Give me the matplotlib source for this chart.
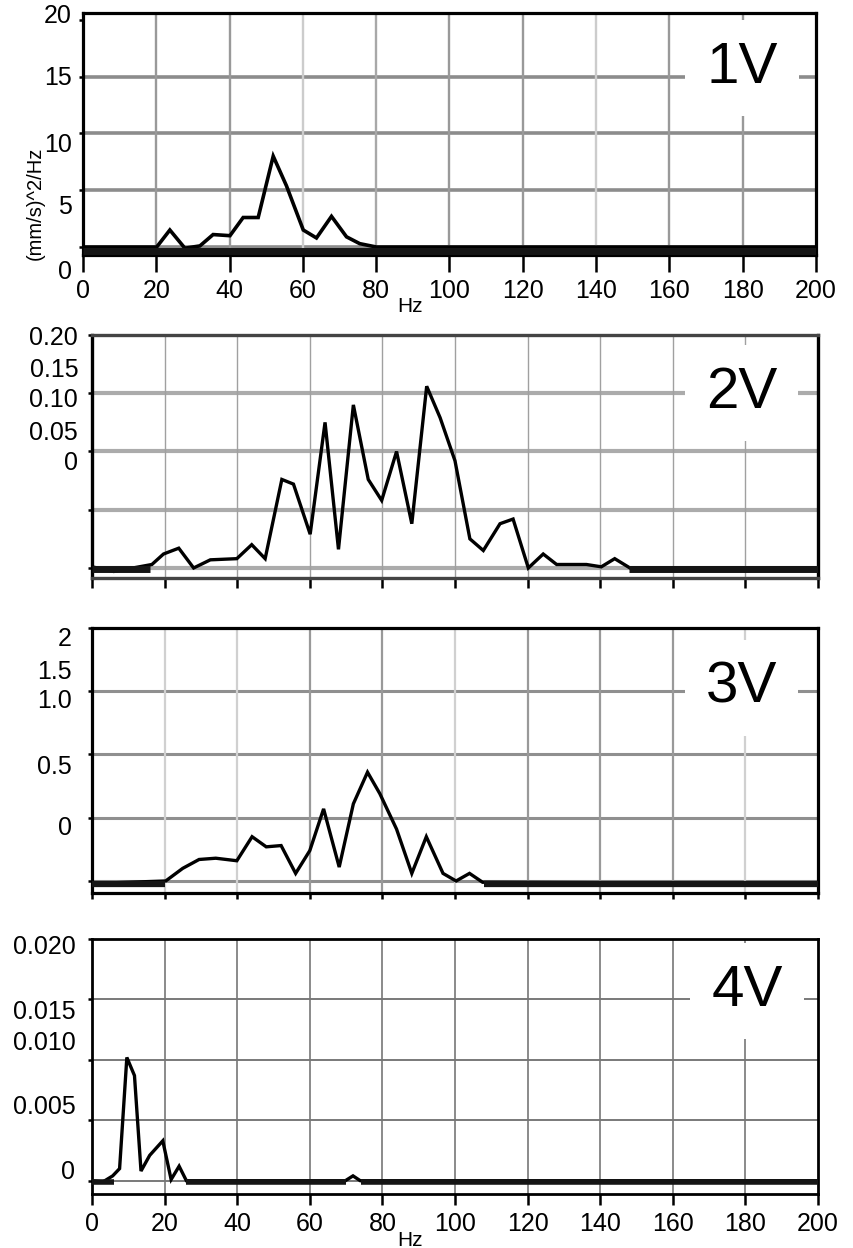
import matplotlib
matplotlib.use('Agg')
import matplotlib.pyplot as plt

plt.rcParams['font.family'] = ['Liberation Sans', 'DejaVu Sans']

W, H = 854, 1248
hz_ticks = list(range(0, 201, 20))

# ---- panel data (frequency in Hz, PSD) ----
f1 = [0, 20.1, 23.7, 27.8, 31.9, 35.5, 40.1, 43.7, 47.8, 51.9, 55.5, 60.1,
      63.7, 67.8, 71.9, 75.5, 80.1, 200]
p1 = [0, 0, 1.5, -0.1, 0.1, 1.1, 1.0, 2.6, 2.6, 8.0, 5.4, 1.5,
      0.8, 2.7, 0.9, 0.3, 0, 0]

f2 = [0, 6, 16.5, 19.7, 23.9, 28, 32.6, 39.9, 44, 47.7, 52.3, 55.5, 60.1, 64.2,
      67.9, 72, 76.1, 79.8, 83.9, 88.1, 92.2, 95.9, 100, 104.1, 107.8, 112.4,
      116, 120.2, 124.3, 128, 136.2, 140.3, 144, 148.2, 200]
p2 = [0.001, -0.003, 0.003, 0.012, 0.017, 0, 0.007, 0.008, 0.020, 0.008, 0.076,
      0.072, 0.029, 0.125, 0.016, 0.140, 0.076, 0.058, 0.100, 0.038, 0.156,
      0.129, 0.092, 0.025, 0.015, 0.038, 0.042, 0.0, 0.012, 0.003, 0.003,
      0.001, 0.008, 0.0, 0.0]

f3 = [0, 20.3, 25, 29.5, 34.1, 39.9, 44.1, 48, 52.1, 56.1, 60, 63.8, 68.1, 72,
      75.9, 79.3, 83.9, 88.1, 92.1, 96.7, 100.3, 104, 107.6, 200]
p3 = [-0.02, 0, 0.10, 0.17, 0.18, 0.16, 0.35, 0.27, 0.28, 0.06, 0.24, 0.57,
      0.11, 0.61, 0.86, 0.69, 0.41, 0.06, 0.35, 0.06, 0, 0.06, -0.01, -0.02]

f4 = [0, 3, 5.7, 7.6, 9.6, 11.7, 13.5, 15.9, 19.5, 21.8, 24, 26, 69.8, 71.9,
      73.9, 200]
p4 = [0, -0.0001, 0.0004, 0.001, 0.0102, 0.0087, 0.0008, 0.0021, 0.0033,
      0.0001, 0.0012, 0, 0, 0.0004, 0, 0]

# flat noise-floor stretches drawn heavier
floor1 = [(0, 200)]
floor2 = [(0, 16), (148, 200)]
floor3 = [(0, 20), (108, 200)]
floor4 = [(0, 6), (26, 70), (74, 200)]

# y gridlines and the (oddly placed) y tick labels
grid1 = [0, 5, 10, 15]
grid2 = [0, 0.05, 0.10, 0.15]
grid3 = [0, 0.5, 1.0, 1.5]
grid4 = [0, 0.005, 0.010, 0.015]
ylab1 = ['20', '15', '10', '5', '0']
ylab2 = ['0.20', '0.15', '0.10', '0.05', '0']
ylab3 = ['2', '1.5', '1.0', '0.5', '0']
ylab4 = ['0.020', '0.015', '0.010', '0.005', '0']
ylabpos1 = [20.3, 14.9, 9.0, 3.5, -2.2]
ylabpos2 = [0.197, 0.170, 0.144, 0.116, 0.090]
ylabpos3 = [1.91, 1.65, 1.42, 0.90, 0.42]
ylabpos4 = [0.0193, 0.0140, 0.0114, 0.0061, 0.0007]
names = ['1V', '2V', '3V', '4V']

panels = [
    dict(box=(83, 13, 816, 255), f=f1, p=p1, floor=floor1, fv=-0.35, ylim=(-0.7, 20.6),
         grid=grid1, top=20, lab=ylab1, labpos=ylabpos1, labx=-0.015,
         hgc='#8c8c8c', hgw=2.6, vgc=['#999999', '#999999', '#cccccc', '#a8a8a8', '#999999',
                                      '#999999', '#cccccc', '#999999', '#999999'], vgw=1.7,
         lw=2.6, flw=5.0, spc='black', spw=2.3, xtl=12, xlabels=True, nm=(0.899, 0.773)),
    dict(box=(92, 335, 818, 578), f=f2, p=p2, floor=floor2, fv=-0.001, ylim=(-0.0086, 0.2),
         grid=grid2, top=0.2, lab=ylab2, labpos=ylabpos2, labx=-0.019,
         hgc='#ababab', hgw=3.0, vgc=['#a0a0a0'] * 9, vgw=1.0,
         lw=2.4, flw=5.0, spc='#444444', spw=2.4, xtl=7, xlabels=False, nm=(0.895, 0.763)),
    dict(box=(92, 628, 818, 893), f=f3, p=p3, floor=floor3, fv=-0.025, ylim=(-0.095, 2.0),
         grid=grid3, top=2.0, lab=ylab3, labpos=ylabpos3, labx=-0.028,
         hgc='#8f8f8f', hgw=2.2, vgc=['#d0d0d0', '#d0d0d0', '#999999', '#999999', '#d0d0d0',
                                      '#999999', '#999999', '#999999', '#d0d0d0'], vgw=1.6,
         lw=2.4, flw=4.5, spc='black', spw=2.3, xtl=4, xlabels=False, nm=(0.895, 0.774)),
    dict(box=(92, 939, 818, 1194), f=f4, p=p4, floor=floor4, fv=-0.0001, ylim=(-0.0011, 0.020),
         grid=grid4, top=0.020, lab=ylab4, labpos=ylabpos4, labx=-0.023,
         hgc='#6e6e6e', hgw=1.3, vgc=['#777777'] * 9, vgw=1.2,
         lw=2.4, flw=4.0, spc='black', spw=2.0, xtl=8, xlabels=True, nm=(0.902, 0.796)),
]

fig = plt.figure(figsize=(W / 100, H / 100), dpi=100)

for k, pn in enumerate(panels):
    l, t, r, b = pn['box']
    ax = fig.add_axes([l / W, 1 - b / H, (r - l) / W, (b - t) / H])
    ax.set_xlim(0, 200)
    ax.set_ylim(*pn['ylim'])

    # grid
    for g in pn['grid']:
        ax.axhline(g, color=pn['hgc'], lw=pn['hgw'], zorder=1)
    for x, c in zip(hz_ticks[1:-1], pn['vgc']):
        ax.axvline(x, color=c, lw=pn['vgw'], zorder=1)

    # trace and heavy noise floor
    ax.plot(pn['f'], pn['p'], color='black', lw=pn['lw'], solid_joinstyle='miter', zorder=3)
    for a, e in pn['floor']:
        ax.plot([a, e], [pn['fv'], pn['fv']], color='#151515', lw=pn['flw'],
                solid_capstyle='butt', zorder=3)

    ax.set_xticks(hz_ticks)
    ax.set_yticks(pn['grid'] + [pn['top']])
    ax.tick_params(axis='x', direction='out', length=pn['xtl'], width=1.8,
                   labelsize=18, pad=5, labelbottom=pn['xlabels'])
    ax.tick_params(axis='y', direction='out', length=3, width=1.8, labelleft=False)
    for s in ax.spines.values():
        s.set_color(pn['spc'])
        s.set_linewidth(pn['spw'])
    if k == 1:
        ax.spines['left'].set_color('black')
        ax.spines['right'].set_color('black')

    for lab, pos in zip(pn['lab'], pn['labpos']):
        ax.text(pn['labx'], pos, lab, transform=ax.get_yaxis_transform(),
                ha='right', va='center', fontsize=18)

    ax.text(pn['nm'][0], pn['nm'][1], names[k], transform=ax.transAxes,
            ha='center', va='center', fontsize=42, zorder=5,
            bbox=dict(boxstyle='square,pad=0.36', fc='white', ec='none'))

fig.text(35 / W, 1 - 203 / H, '(mm/s)^2/Hz', rotation=90, ha='center', va='center',
         fontsize=14.5)
fig.text(410 / W, 1 - 307 / H, 'Hz', ha='center', va='center', fontsize=15)
fig.text(410 / W, 1 - 1240 / H, 'Hz', ha='center', va='center', fontsize=15)

fig.savefig('out.png', dpi=100, facecolor='white')
